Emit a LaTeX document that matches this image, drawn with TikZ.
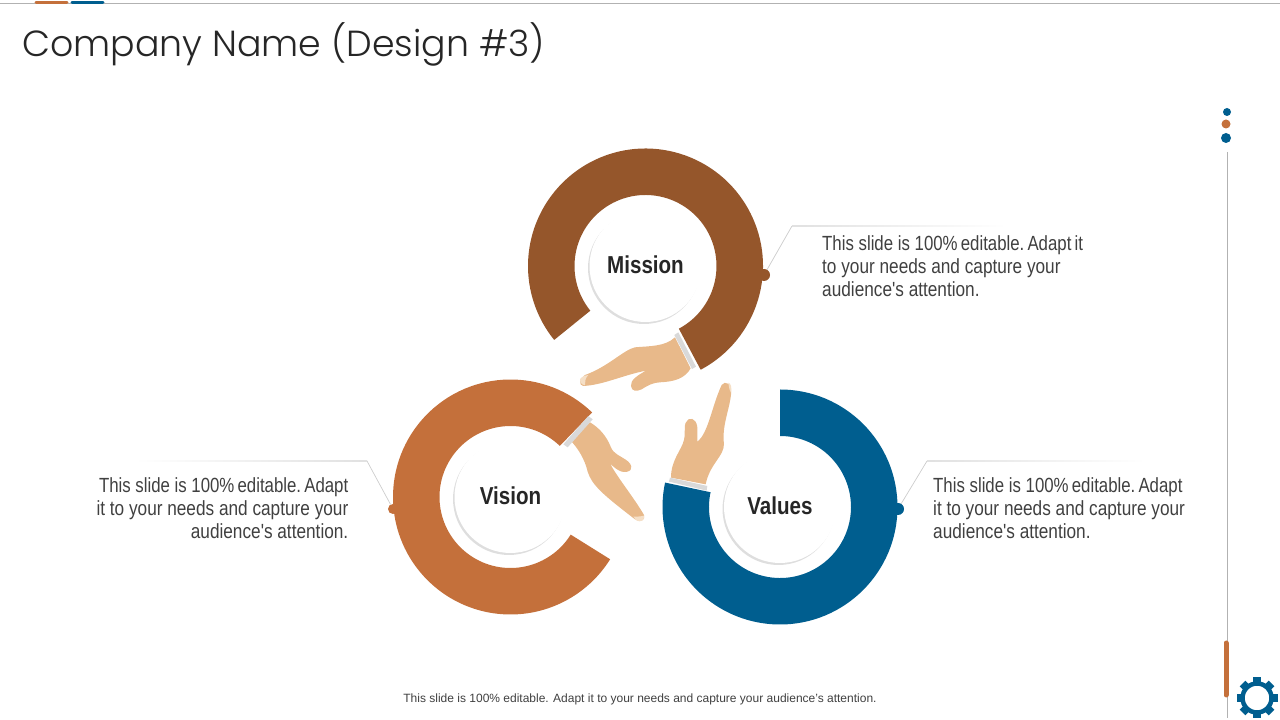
\documentclass[tikz,border=0pt]{standalone}
\usepackage{fontspec}
\usepackage{tikz}
\usetikzlibrary{shadows}
\setmainfont{Liberation Sans}
\newfontfamily\narrowfont[FakeStretch=0.84]{Liberation Sans}
\newfontfamily\tightfont[FakeStretch=0.82]{Liberation Sans}
\newfontfamily\titlefont{Poppins Light}
\definecolor{brownring}{HTML}{95562B}
\definecolor{orangering}{HTML}{C4703B}
\definecolor{bluering}{HTML}{005E8F}
\definecolor{skin}{HTML}{E8B98A}
\definecolor{nail}{HTML}{F5DFC6}
\definecolor{cuff}{HTML}{D9D9D9}
\definecolor{bodytext}{HTML}{404040}
\newcommand{\tsp}{\hspace{-1.5pt}}
\begin{document}
\begin{tikzpicture}
	[x=1pt,y=1pt,
	hub/.style={circle,fill=white,minimum size=112pt,inner sep=0pt,text depth=3pt,font=\narrowfont\bfseries\fontsize{24.5}{24.5}\selectfont,text=black!85,
		drop shadow={shadow xshift=-1.5pt,shadow yshift=-2pt,fill=black!13,opacity=1}},
	dot/.style={circle,inner sep=0pt,minimum size=#1},
	lead/.style={draw=black!20,line width=.7pt},
	blurb/.style={font=\narrowfont\frenchspacing\fontsize{20.5}{23}\selectfont,text=bodytext,inner sep=0pt}]
	\useasboundingbox (0,0) rectangle (1280,720);

	\draw[black!30,line width=1pt] (0,716.5) -- (1280,716.5);
	\draw[orangering,line width=3pt,line cap=round] (36,717) -- (67,717);
	\draw[bluering,line width=3pt,line cap=round] (72,717) -- (103,717);
	\node[anchor=west,inner sep=0pt,font=\titlefont\fontsize{36.3}{36.3}\selectfont,text=black!85] (title) at (22,675.5) {Company Name (Design \#3)};

	\foreach \cx/\cy/\from/\to/\col in
	{645.5/454/-62/219/brownring, 510.5/223/46/328/orangering, 780/213/90/-192/bluering}
	\fill[\col] (\cx,\cy) ++(\from:117.5) arc (\from:\to:117.5) -- ++(\to:-46.5) arc (\to:\from:71) -- cycle;

	\node[hub] (mission) at (645.5,454) {Mission};
	\node[hub] (vision) at (510.5,223) {Vision};
	\node[hub] (values) at (780,213) {Values};

	\begin{scope}[shift={(520,420)},x=.3333pt,y=-.3333pt]
		\fill[skin] (465,112) .. controls (435,140) and (390,138) .. (345,142) .. controls (310,150) and (265,200) .. (195,225) .. controls (178,235) and (175,256) .. (190,258) .. controls (250,255) and (310,225) .. (378,212) .. controls (355,225) and (330,240) .. (333,258) .. controls (335,275) and (350,275) .. (365,268) .. controls (385,255) and (400,248) .. (420,247) .. controls (465,245) and (495,235) .. (512,205) -- cycle;
		\fill[skin] (210,367) .. controls (240,385) and (260,410) .. (272,440) .. controls (282,465) and (300,465) .. (325,485) .. controls (345,505) and (330,520) .. (305,515) .. controls (290,510) and (280,500) .. (270,490) .. controls (290,530) and (340,590) .. (372,645) .. controls (378,660) and (362,668) .. (345,658) .. controls (250,585) and (215,555) .. (203,515) .. controls (195,480) and (175,445) .. (150,420) -- cycle;
		\fill[skin] (453,533) .. controls (453,480) and (485,450) .. (492,420) .. controls (498,395) and (488,370) .. (505,358) .. controls (522,350) and (535,370) .. (532,395) -- (532,425) .. controls (565,400) and (575,320) .. (605,255) .. controls (615,240) and (638,250) .. (633,285) .. controls (628,330) and (605,380) .. (612,432) .. controls (612,470) and (570,490) .. (557,553) -- cycle;
		\fill[nail] (180,237) .. controls (190,228) and (195,225) .. (205,225) .. controls (195,235) and (195,245) .. (195,256) .. controls (185,255) and (178,245) .. (180,237) -- cycle;
		\fill[nail] (340,650) .. controls (350,650) and (360,650) .. (372,647) .. controls (375,660) and (362,668) .. (350,662) -- cycle;
		\fill[nail] (625,248) .. controls (633,250) and (636,262) .. (633,278) .. controls (628,270) and (626,258) .. (625,248) -- cycle;
		\fill[cuff] (463,105) -- (475,97) -- (528,200) -- (516,207) -- cycle;
		\fill[cuff] (130,433) -- (205,348) -- (218,358) -- (143,442) -- cycle;
		\fill[cuff] (447,545) -- (450,533) -- (562,558) -- (560,572) -- cycle;
	\end{scope}

	\node[dot=12pt,fill=brownring] (d1) at (764,445) {};
	\node[dot=10pt,fill=orangering] (d2) at (393,211) {};
	\node[dot=12pt,fill=bluering] (d3) at (898,211) {};

	\coordinate (e1) at (792,494);
	\coordinate (e2) at (367,259);
	\coordinate (e3) at (927,259);
	\foreach \from/\to in {d1/e1, d2/e2, d3/e3}
	\draw[lead] (\from) -- (\to);
	\shade[left color=black!12,right color=white] (792,493.6) rectangle (1006,494.4);
	\shade[left color=white,right color=black!12] (135,258.6) rectangle (367,259.4);
	\shade[left color=black!12,right color=white] (927,258.6) rectangle (1145,259.4);

	\node[blurb,anchor=west,align=left] (b1) at (822,454) {\tightfont This slide is 100\%\tsp{} editable.\tsp{} Adapt\tsp{} it\\to your needs and capture your\\audience's attention.};
	\node[blurb,anchor=east,align=right] (b2) at (348.5,212) {\tightfont This slide is 100\%\tsp{} editable.\tsp{} Adapt\\it to your needs and capture your\\audience's attention.};
	\node[blurb,anchor=west,align=left] (b3) at (933,212) {\tightfont This slide is 100\%\tsp{} editable.\tsp{} Adapt\\it to your needs and capture your\\audience's attention.};
	\node[inner sep=0pt,font=\fontsize{12}{12}\selectfont,text=bodytext] (foot) at (640,20.5) {This slide is 100\% editable. Adapt it to your needs and capture your audience's attention.};

	\draw[black!30,line width=1pt] (1227,568) -- (1227,2);
	\draw[orangering,line width=5pt,line cap=round] (1226,77) -- (1226,25);
	\node[dot=8pt,fill=bluering] (s1) at (1227,608) {};
	\node[dot=9pt,fill=orangering] (s2) at (1226,596) {};
	\node[dot=10pt,fill=bluering] (s3) at (1226,582) {};

	\foreach \ang in {0,45,...,315}
	\draw[bluering,line width=8pt] (1257,22)++(\ang:14) -- ++(\ang:6.5);
	\node[circle,draw=bluering,line width=4.5pt,minimum size=29pt,inner sep=0pt,fill=white] (gear) at (1257,22) {};
\end{tikzpicture}
\end{document}
